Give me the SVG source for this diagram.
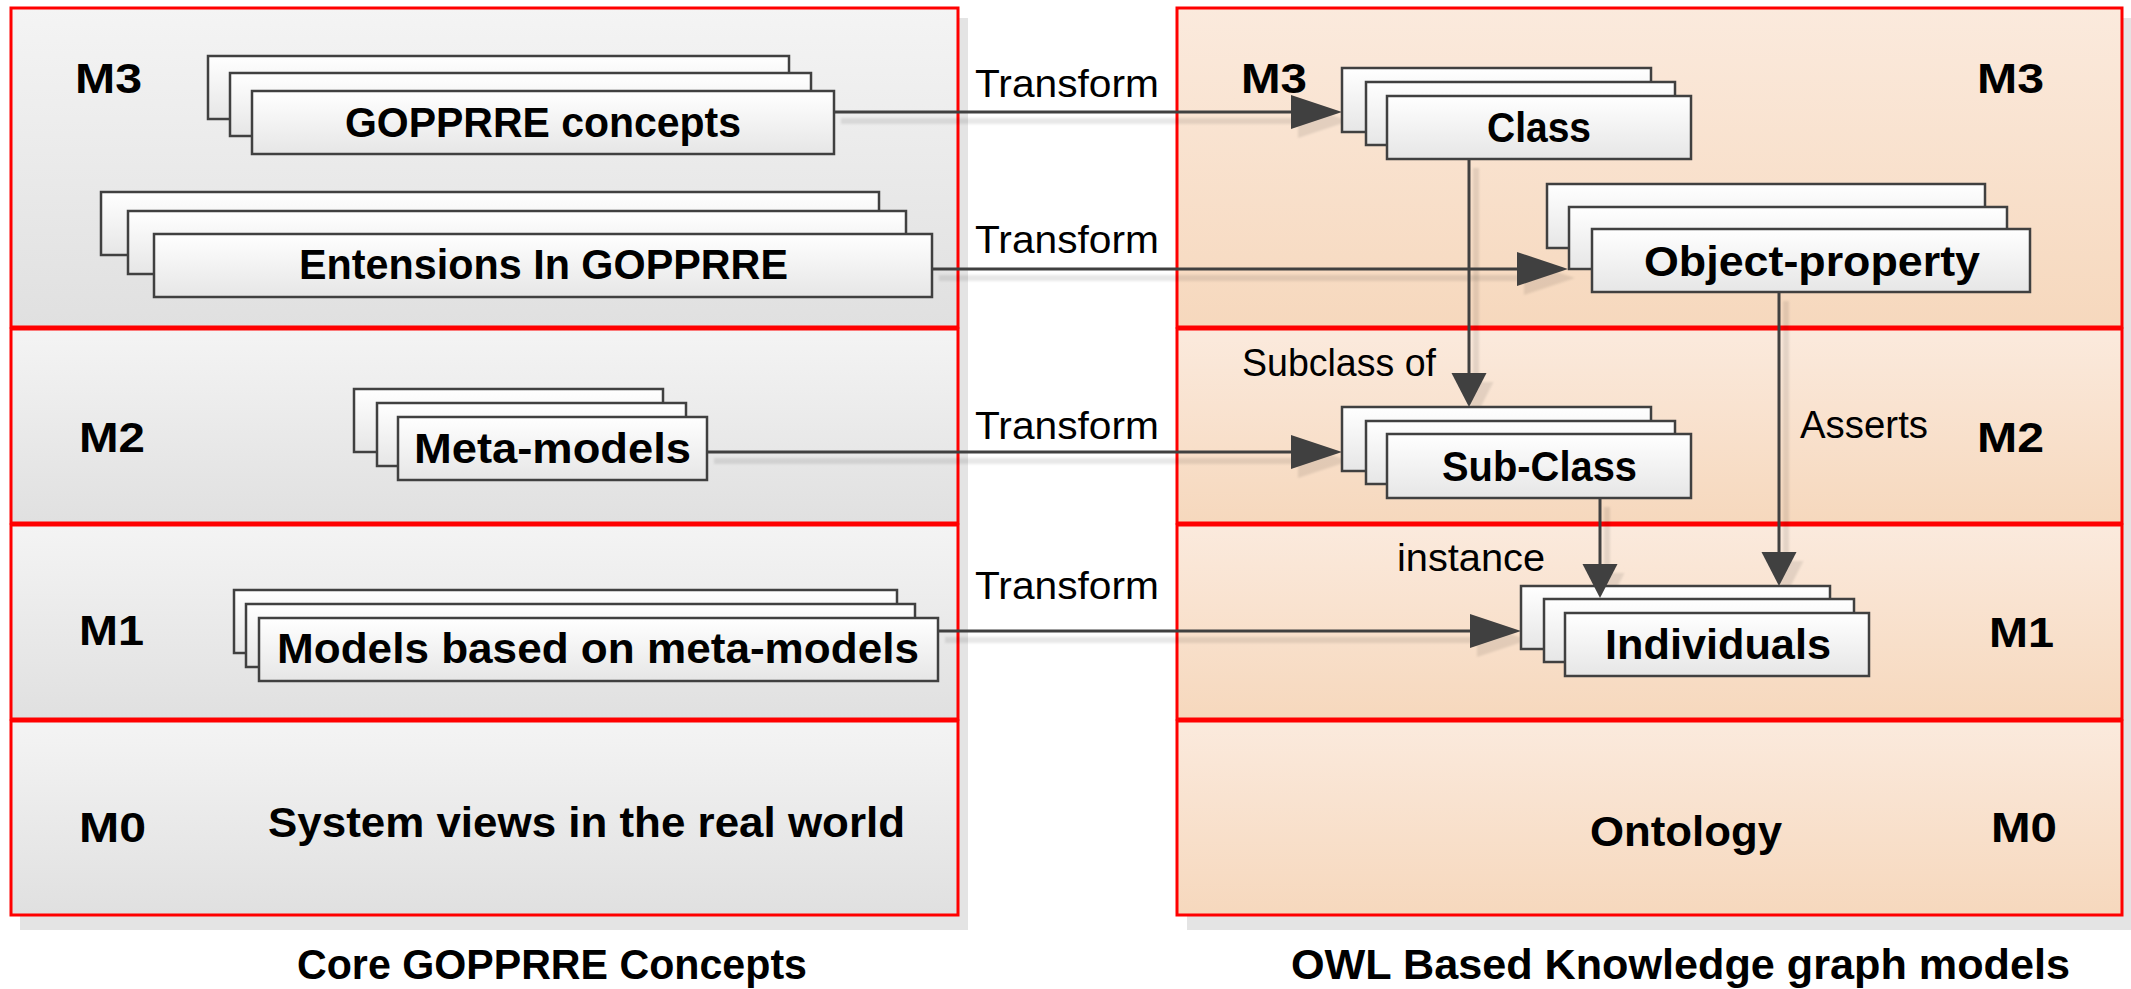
<svg xmlns="http://www.w3.org/2000/svg" width="2131" height="989" viewBox="0 0 2131 989">
  <defs>
    <linearGradient id="greyRow" x1="0" y1="0" x2="0" y2="1">
      <stop offset="0" stop-color="#f4f4f4"/>
      <stop offset="1" stop-color="#e0e0e0"/>
    </linearGradient>
    <linearGradient id="peachRow" x1="0" y1="0" x2="0" y2="1">
      <stop offset="0" stop-color="#fbeadd"/>
      <stop offset="1" stop-color="#f6d8bd"/>
    </linearGradient>
    <linearGradient id="cardGrad" x1="0" y1="0" x2="0" y2="1">
      <stop offset="0" stop-color="#ffffff"/>
      <stop offset="1" stop-color="#e6e6e6"/>
    </linearGradient>
    <filter id="soft" x="-5%" y="-5%" width="110%" height="110%">
      <feGaussianBlur stdDeviation="1"/>
    </filter>
    <marker id="headH" markerUnits="userSpaceOnUse" markerWidth="51" markerHeight="34" refX="0" refY="17" orient="auto" overflow="visible">
      <path d="M0,0 L51,17 L0,34 Z" fill="#404040"/>
    </marker>
    <marker id="headV" markerUnits="userSpaceOnUse" markerWidth="34" markerHeight="35" refX="0" refY="17.5" orient="auto" overflow="visible">
      <path d="M0,0 L34,17.5 L0,35 Z" fill="#404040"/>
    </marker>
    <marker id="headHs" markerUnits="userSpaceOnUse" markerWidth="51" markerHeight="34" refX="0" refY="17" orient="auto" overflow="visible">
      <path d="M0,0 L51,17 L0,34 Z" fill="#000" fill-opacity="0.09"/>
    </marker>
    <marker id="headVs" markerUnits="userSpaceOnUse" markerWidth="34" markerHeight="35" refX="0" refY="17.5" orient="auto" overflow="visible">
      <path d="M0,0 L34,17.5 L0,35 Z" fill="#000" fill-opacity="0.09"/>
    </marker>
    <style>
      .rowL { fill: url(#greyRow); stroke: #ff0000; stroke-width: 3; }
      .rowR { fill: url(#peachRow); stroke: #ff0000; stroke-width: 3; }
      .panelShadow { fill: #e4e4e4; }
      .card { fill: url(#cardGrad); stroke: #404040; stroke-width: 2.5; }
      .bold { font-family: "Liberation Sans", Arial, sans-serif; font-weight: bold; font-size: 42px; fill: #000; }
      .plain { font-family: "Liberation Sans", Arial, sans-serif; font-size: 38px; fill: #000; }
      .link { fill: none; stroke: #404040; stroke-width: 3; }
      .linkShadow { fill: none; stroke: #000; stroke-opacity: 0.09; stroke-width: 6; }
    </style>
  </defs>

  <rect x="0" y="0" width="2131" height="989" fill="#ffffff"/>

  <!-- Left column: core GOPPRRE levels -->
  <g id="panel-core">
    <rect class="panelShadow" x="20" y="18" width="948" height="912"/>
    <rect class="rowL" x="11" y="8" width="947" height="319"/>
    <rect class="rowL" x="11" y="329" width="947" height="194"/>
    <rect class="rowL" x="11" y="525" width="947" height="194"/>
    <rect class="rowL" x="11" y="721" width="947" height="194"/>
    <text class="bold" x="75" y="93" textLength="67" lengthAdjust="spacingAndGlyphs">M3</text>
    <text class="bold" x="79" y="452" textLength="66" lengthAdjust="spacingAndGlyphs">M2</text>
    <text class="bold" x="79" y="645" textLength="65" lengthAdjust="spacingAndGlyphs">M1</text>
    <text class="bold" x="79" y="842" textLength="67" lengthAdjust="spacingAndGlyphs">M0</text>
    <text class="bold" x="268" y="837" textLength="637" lengthAdjust="spacingAndGlyphs">System views in the real world</text>
  </g>

  <!-- Right column: OWL knowledge graph levels -->
  <g id="panel-owl">
    <rect class="panelShadow" x="1187" y="18" width="944" height="912"/>
    <rect class="rowR" x="1177" y="8" width="945" height="319"/>
    <rect class="rowR" x="1177" y="329" width="945" height="194"/>
    <rect class="rowR" x="1177" y="525" width="945" height="194"/>
    <rect class="rowR" x="1177" y="721" width="945" height="194"/>
    <text class="bold" x="1241" y="93" textLength="66" lengthAdjust="spacingAndGlyphs">M3</text>
    <text class="bold" x="1977" y="93" textLength="67" lengthAdjust="spacingAndGlyphs">M3</text>
    <text class="bold" x="1977" y="452" textLength="67" lengthAdjust="spacingAndGlyphs">M2</text>
    <text class="bold" x="1989" y="647" textLength="65" lengthAdjust="spacingAndGlyphs">M1</text>
    <text class="bold" x="1991" y="842" textLength="66" lengthAdjust="spacingAndGlyphs">M0</text>
    <text class="bold" x="1590" y="846" textLength="192" lengthAdjust="spacingAndGlyphs">Ontology</text>
  </g>

  <!-- Column captions -->
  <g id="captions">
    <text class="bold" x="297" y="979" textLength="510" lengthAdjust="spacingAndGlyphs">Core GOPPRRE Concepts</text>
    <text class="bold" x="1291" y="979" textLength="779" lengthAdjust="spacingAndGlyphs">OWL Based Knowledge graph models</text>
  </g>

  <!-- Soft drop shadows under the connectors -->
  <g id="connector-shadows" filter="url(#soft)" transform="translate(7,9)">
    <path class="linkShadow" d="M834,112 H1291" marker-end="url(#headHs)"/>
    <path class="linkShadow" d="M932,269 H1517" marker-end="url(#headHs)"/>
    <path class="linkShadow" d="M707,452 H1291" marker-end="url(#headHs)"/>
    <path class="linkShadow" d="M938,631 H1470" marker-end="url(#headHs)"/>
    <path class="linkShadow" d="M1469,159 V373" marker-end="url(#headVs)"/>
    <path class="linkShadow" d="M1779,292 V552" marker-end="url(#headVs)"/>
    <path class="linkShadow" d="M1600,498 V564" marker-end="url(#headVs)"/>
  </g>

  <!-- Stacked concept cards -->
  <g id="node-goppre-concepts">
    <rect class="card" x="208" y="56" width="581" height="63"/>
    <rect class="card" x="230" y="73" width="581" height="63"/>
    <rect class="card" x="252" y="91" width="582" height="63"/>
    <text class="bold" x="345" y="137" textLength="396" lengthAdjust="spacingAndGlyphs">GOPPRRE concepts</text>
  </g>
  <g id="node-extensions">
    <rect class="card" x="101" y="192" width="778" height="63"/>
    <rect class="card" x="128" y="211" width="778" height="63"/>
    <rect class="card" x="154" y="234" width="778" height="63"/>
    <text class="bold" x="299" y="279" textLength="489" lengthAdjust="spacingAndGlyphs">Entensions In GOPPRRE</text>
  </g>
  <g id="node-meta-models">
    <rect class="card" x="354" y="389" width="309" height="63"/>
    <rect class="card" x="377" y="403" width="309" height="63"/>
    <rect class="card" x="398" y="417" width="309" height="63"/>
    <text class="bold" x="414" y="463" textLength="277" lengthAdjust="spacingAndGlyphs">Meta-models</text>
  </g>
  <g id="node-models">
    <rect class="card" x="234" y="590" width="663" height="63"/>
    <rect class="card" x="246" y="604" width="669" height="63"/>
    <rect class="card" x="259" y="618" width="679" height="63"/>
    <text class="bold" x="277" y="663" textLength="642" lengthAdjust="spacingAndGlyphs">Models based on meta-models</text>
  </g>
  <g id="node-class">
    <rect class="card" x="1342" y="68" width="309" height="64"/>
    <rect class="card" x="1366" y="82" width="309" height="63"/>
    <rect class="card" x="1387" y="96" width="304" height="63"/>
    <text class="bold" x="1487" y="142" textLength="104" lengthAdjust="spacingAndGlyphs">Class</text>
  </g>
  <g id="node-object-property">
    <rect class="card" x="1547" y="184" width="438" height="64"/>
    <rect class="card" x="1569" y="207" width="438" height="62"/>
    <rect class="card" x="1592" y="229" width="438" height="63"/>
    <text class="bold" x="1644" y="276" textLength="336" lengthAdjust="spacingAndGlyphs">Object-property</text>
  </g>
  <g id="node-sub-class">
    <rect class="card" x="1342" y="407" width="309" height="64"/>
    <rect class="card" x="1366" y="421" width="309" height="63"/>
    <rect class="card" x="1387" y="434" width="304" height="64"/>
    <text class="bold" x="1442" y="481" textLength="195" lengthAdjust="spacingAndGlyphs">Sub-Class</text>
  </g>
  <g id="node-individuals">
    <rect class="card" x="1521" y="586" width="309" height="63"/>
    <rect class="card" x="1544" y="599" width="310" height="63"/>
    <rect class="card" x="1565" y="613" width="304" height="63"/>
    <text class="bold" x="1605" y="659" textLength="226" lengthAdjust="spacingAndGlyphs">Individuals</text>
  </g>

  <!-- Connectors -->
  <g id="connectors">
    <path class="link" d="M834,112 H1291" marker-end="url(#headH)"/>
    <path class="link" d="M932,269 H1517" marker-end="url(#headH)"/>
    <path class="link" d="M707,452 H1291" marker-end="url(#headH)"/>
    <path class="link" d="M938,631 H1470" marker-end="url(#headH)"/>
    <path class="link" d="M1469,159 V373" marker-end="url(#headV)"/>
    <path class="link" d="M1779,292 V552" marker-end="url(#headV)"/>
    <path class="link" d="M1600,498 V564" marker-end="url(#headV)"/>
    <text class="plain" x="975" y="97" textLength="184" lengthAdjust="spacingAndGlyphs">Transform</text>
    <text class="plain" x="975" y="253" textLength="184" lengthAdjust="spacingAndGlyphs">Transform</text>
    <text class="plain" x="975" y="439" textLength="184" lengthAdjust="spacingAndGlyphs">Transform</text>
    <text class="plain" x="975" y="599" textLength="184" lengthAdjust="spacingAndGlyphs">Transform</text>
    <text class="plain" x="1242" y="376" textLength="194" lengthAdjust="spacingAndGlyphs">Subclass of</text>
    <text class="plain" x="1800" y="438" textLength="128" lengthAdjust="spacingAndGlyphs">Asserts</text>
    <text class="plain" x="1397" y="571" textLength="148" lengthAdjust="spacingAndGlyphs">instance</text>
  </g>
</svg>
